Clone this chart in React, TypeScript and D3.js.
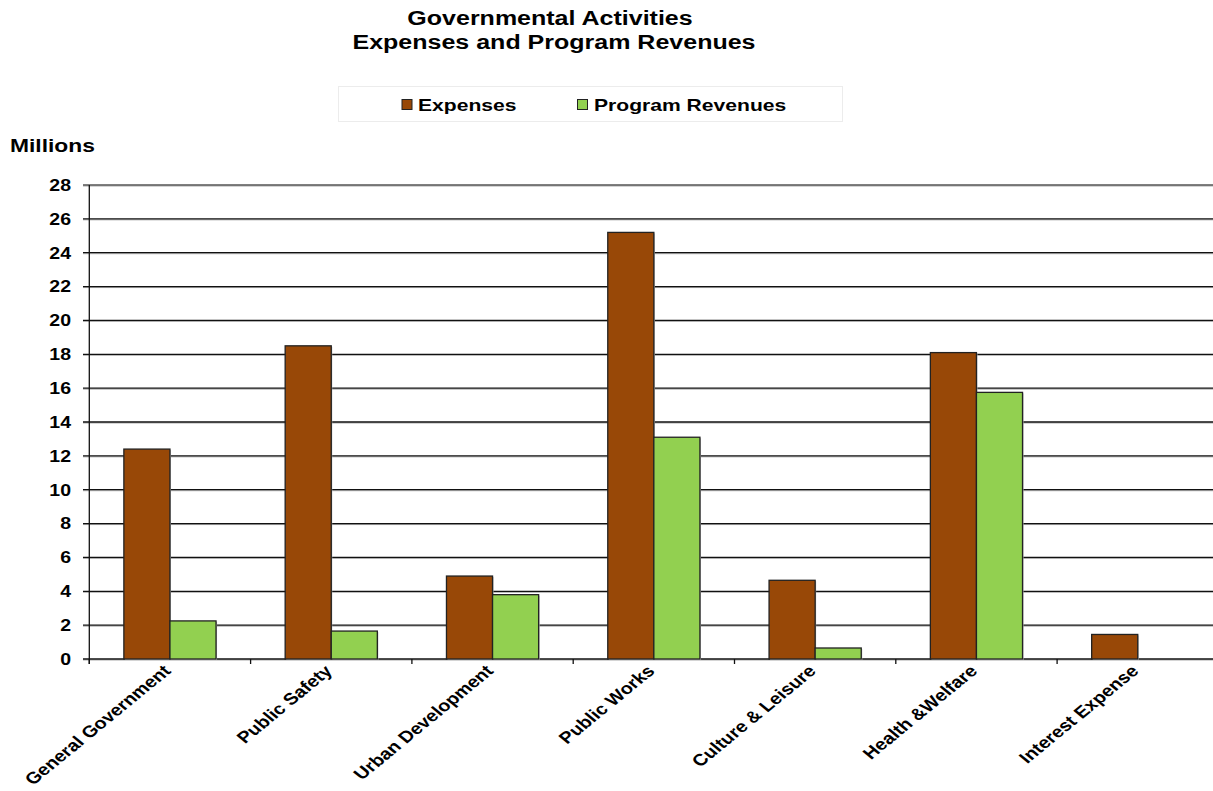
import React from "react";
import * as d3 from "d3";

const categories = [
  "General Government",
  "Public Safety",
  "Urban Development",
  "Public Works",
  "Culture & Leisure",
  "Health &Welfare",
  "Interest Expense",
];
const seriesNames = ["Expenses", "Program Revenues"];
const expenses = [12.4, 18.5, 4.9, 25.2, 4.65, 18.1, 1.45];
const programRevenues = [2.25, 1.65, 3.8, 13.1, 0.65, 15.75, 0];
const yTicks = [0, 2, 4, 6, 8, 10, 12, 14, 16, 18, 20, 22, 24, 26, 28];
const titleLines = ["Governmental Activities", "Expenses and Program Revenues"];
const yAxisTitle = "Millions";

const COLORS = ["#984807", "#92D050"];
const FONT = "'Liberation Sans', Arial, sans-serif";
const SX = 1.22;

export default function App() {
  const W = 1213;
  const H = 791;
  const left = 89.3;
  const step = 161.3;
  const top = 185;
  const bottom = 659;

  const x0 = d3
    .scaleBand<string>()
    .domain(categories)
    .range([left, left + step * categories.length])
    .paddingInner(0)
    .paddingOuter(0);
  const x1 = d3
    .scaleBand<string>()
    .domain(seriesNames)
    .range([0, x0.bandwidth()])
    .paddingInner(0)
    .paddingOuter(0.75);
  const y = d3.scaleLinear().domain([0, 28]).range([bottom, top]);

  const data = [expenses, programRevenues];

  return (
    <svg
      width={W}
      height={H}
      style={{ position: "absolute", left: 0, top: 0, display: "block", background: "#fff" }}
      fontFamily={FONT}
    >
      {/* Title */}
      <text
        transform={`translate(550,25) scale(${SX},1)`}
        textAnchor="middle"
        fontWeight="bold"
        fontSize={20.5}
        fill="#000"
      >
        {titleLines[0]}
      </text>
      <text
        transform={`translate(554,49) scale(${SX},1)`}
        textAnchor="middle"
        fontWeight="bold"
        fontSize={20.5}
        fill="#000"
      >
        {titleLines[1]}
      </text>

      {/* Legend */}
      <rect x={338.5} y={86.5} width={504} height={35} fill="#fff" stroke="#ececec" strokeWidth={1} />
      <rect x={402} y={99.5} width={10} height={10} fill={COLORS[0]} stroke="#222" strokeWidth={1} />
      <text
        transform={`translate(418,110.5) scale(${SX},1)`}
        fontWeight="bold"
        fontSize={17.3}
        fill="#000"
      >
        {seriesNames[0]}
      </text>
      <rect x={577.5} y={99.5} width={10} height={10} fill={COLORS[1]} stroke="#222" strokeWidth={1} />
      <text
        transform={`translate(594,110.5) scale(${SX},1)`}
        fontWeight="bold"
        fontSize={17.3}
        fill="#000"
      >
        {seriesNames[1]}
      </text>

      {/* Y axis title */}
      <text
        transform={`translate(10,151.5) scale(${SX * 1.04},1)`}
        fontWeight="bold"
        fontSize={18}
        fill="#000"
      >
        {yAxisTitle}
      </text>

      {/* Gridlines */}
      {yTicks.map((t) => (
        <g key={"g" + t}>
          <line x1={83} x2={W} y1={y(t) + 1} y2={y(t) + 1} stroke="#aaa" strokeWidth={1} />
          <line x1={83} x2={W} y1={y(t)} y2={y(t)} stroke={t === 28 ? "#555" : "#111"} strokeWidth={1.3} />
        </g>
      ))}

      {/* Y tick labels */}
      {yTicks.map((t) => (
        <text
          key={"yt" + t}
          transform={`translate(71,${y(t) + 5.8}) scale(${SX},1)`}
          textAnchor="end"
          fontWeight="bold"
          fontSize={16}
          fill="#000"
        >
          {t}
        </text>
      ))}

      {/* Y axis line */}
      <line x1={left} x2={left} y1={top} y2={bottom + 5} stroke="#111" strokeWidth={1.3} />
      {/* Category ticks */}
      {categories.map((c) => (
        <line
          key={"ct" + c}
          x1={x0(c)!}
          x2={x0(c)!}
          y1={bottom}
          y2={bottom + 5}
          stroke="#111"
          strokeWidth={1.3}
        />
      ))}

      {/* Bars */}
      {categories.map((c, i) => (
        <g key={"b" + c} transform={`translate(${x0(c)},0)`}>
          {seriesNames.map((s, j) => {
            const v = data[j][i];
            if (!v) return null;
            const bx = x1(s)!;
            const by = y(v);
            return (
              <g key={s}>
                <rect
                  x={bx + 1}
                  y={by + 1}
                  width={x1.bandwidth()}
                  height={bottom - by}
                  fill="#bbb"
                />
                <rect
                  x={bx}
                  y={by}
                  width={x1.bandwidth()}
                  height={bottom - by}
                  fill={COLORS[j]}
                  stroke="#222"
                  strokeWidth={1.3}
                />
              </g>
            );
          })}
        </g>
      ))}

      {/* X labels */}
      {categories.map((c) => {
        const cx = x0(c)! + x0.bandwidth() / 2;
        return (
          <text
            key={"xl" + c}
            transform={`translate(${cx + 2},672) scale(${SX},1) rotate(-45)`}
            textAnchor="end"
            fontWeight="bold"
            fontSize={16.3}
            fill="#000"
          >
            {c}
          </text>
        );
      })}
    </svg>
  );
}
